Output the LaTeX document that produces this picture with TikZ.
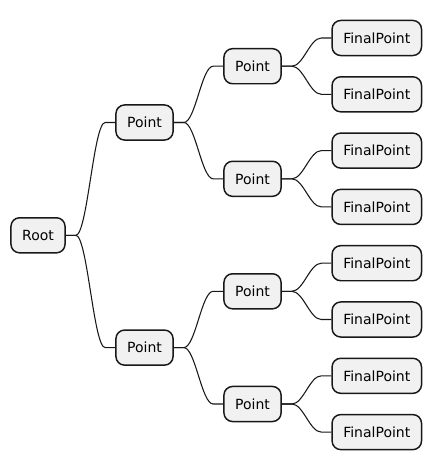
\documentclass[tikz,border=0pt]{standalone}
\usepackage{fontspec}
\setmainfont{DejaVu Sans}
\usetikzlibrary{calc}
\definecolor{boxfill}{HTML}{F1F1F1}
\definecolor{boxline}{HTML}{181818}
\tikzset{
  mmbox/.style={draw=boxline, fill=boxfill, line width=1.1pt, rounded corners=6.5pt,
    inner xsep=8.4pt, inner ysep=0pt, minimum height=26.3pt, font=\fontsize{10.5pt}{12pt}\selectfont, text=black},
  mmlink/.style={draw=boxline, line width=0.8pt}
}
\newcommand\mmconnect[2]{\draw[mmlink] (#1.east) -- ++(10,0) .. controls +(11.6,0) and +(-11.6,0) .. ($(#2.west)+(-10,0)$) -- (#2.west);}
\begin{document}
\begin{tikzpicture}[x=0.75pt,y=-0.75pt]
\useasboundingbox (0,0) rectangle (433,471);
\node[mmbox] (root) at (38,235.3) {Root};
\node[mmbox] (p1) at (144.5,122.5) {Point};
\node[mmbox] (p2) at (144.5,347.6) {Point};
\node[mmbox] (q1) at (252.5,66.2) {Point};
\node[mmbox] (q2) at (252.5,178.8) {Point};
\node[mmbox] (q3) at (252.5,291.3) {Point};
\node[mmbox] (q4) at (252.5,404) {Point};
\foreach \i/\y in {1/38,2/94.3,3/150.6,4/206.9,5/263.2,6/319.5,7/375.8,8/432.1}{
  \node[mmbox] (f\i) at (376.8,\y) {FinalPoint};
}
\mmconnect{root}{p1}
\mmconnect{root}{p2}
\mmconnect{p1}{q1}
\mmconnect{p1}{q2}
\mmconnect{p2}{q3}
\mmconnect{p2}{q4}
\mmconnect{q1}{f1}
\mmconnect{q1}{f2}
\mmconnect{q2}{f3}
\mmconnect{q2}{f4}
\mmconnect{q3}{f5}
\mmconnect{q3}{f6}
\mmconnect{q4}{f7}
\mmconnect{q4}{f8}
\end{tikzpicture}
\end{document}
